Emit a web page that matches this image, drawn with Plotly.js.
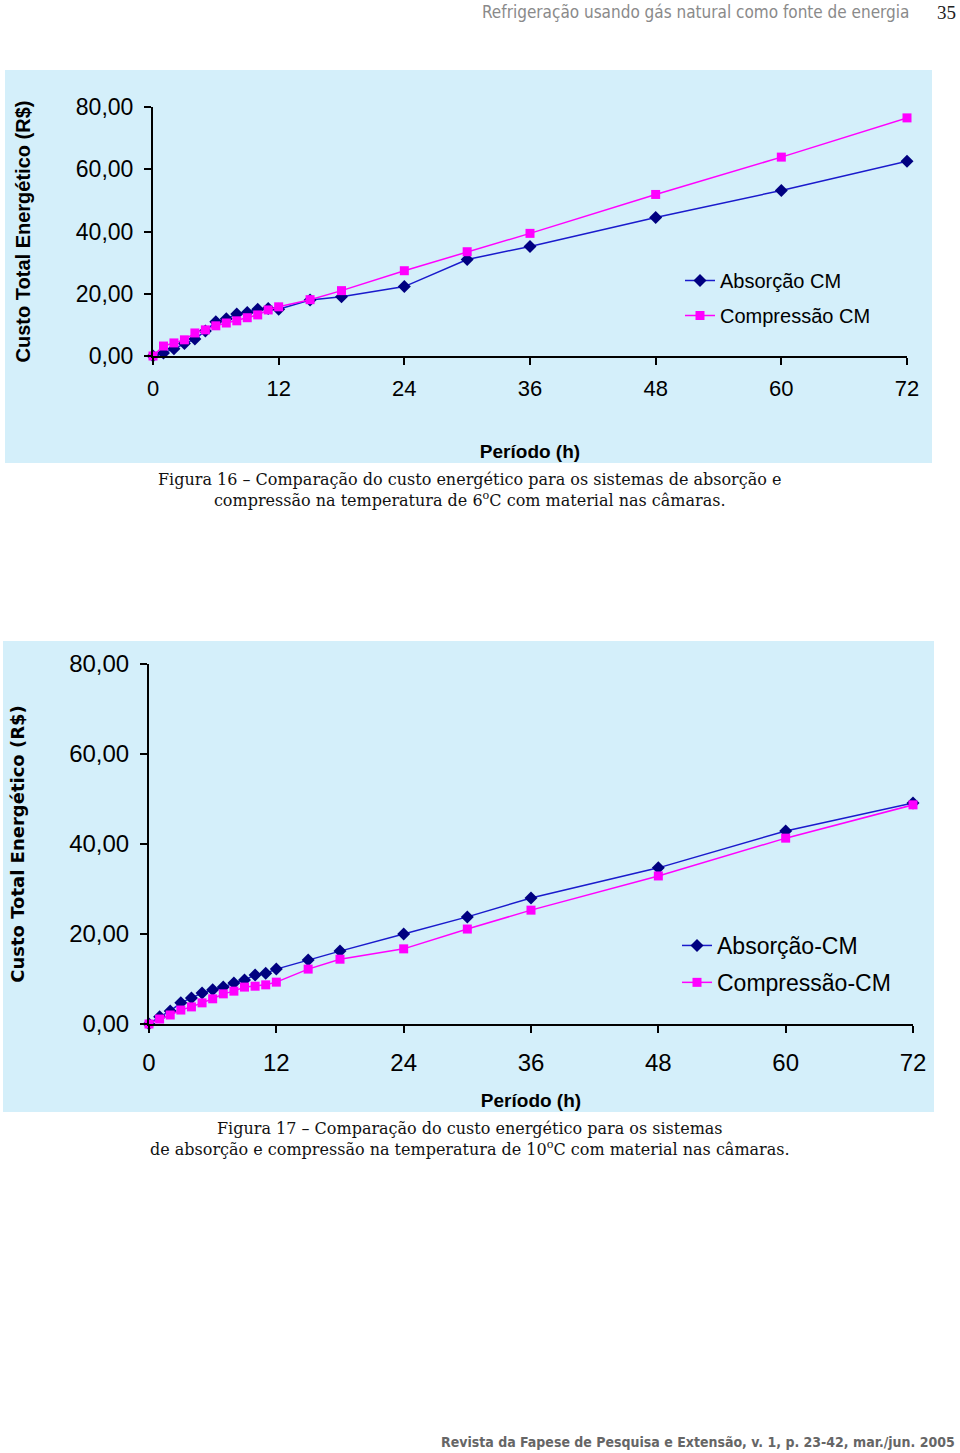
<!DOCTYPE html>
<html>
<head>
<meta charset="utf-8">
<script src="https://cdn.plot.ly/plotly-3.0.1.min.js"></script>
<style>html,body{margin:0;padding:0;background:#fff;}#chart{width:960px;height:1453px;}</style>
</head>
<body>
<div id="chart"></div>
<script>
// ---- Data ----
const hours = [0,1,2,3,4,5,6,7,8,9,10,11,12,15,18,24,30,36,48,60,72];
const xTicks = [0,12,24,36,48,60,72];
const yTicks = [0,20,40,60,80];

// Figura 16 (6 ºC)
const fig16Absorcao   = [0,1.0,2.3,4.0,5.5,8.0,11.0,12.0,13.5,14.0,15.0,15.3,15.0,18.0,19.0,22.3,31.0,35.2,44.5,53.2,62.6];
const fig16Compressao = [0,3.2,4.2,5.2,7.4,8.4,9.7,10.6,11.3,12.3,13.2,14.8,15.8,18.1,21.0,27.4,33.5,39.4,51.9,63.9,76.5];

// Figura 17 (10 ºC)
const fig17Absorcao   = [0,1.6,2.9,4.7,5.8,6.9,7.6,8.2,9.1,9.8,10.9,11.3,12.2,14.2,16.2,20.0,23.8,28.0,34.7,42.9,49.1];
const fig17Compressao = [0,1.1,2.0,3.1,3.8,4.7,5.6,6.7,7.3,8.2,8.4,8.7,9.3,12.2,14.4,16.7,21.1,25.3,32.9,41.3,48.7];

const names16 = ['Absorção CM','Compressão CM'];
const names17 = ['Absorção-CM','Compressão-CM'];

// ---- Layout helpers ----
const W = 960, H = 1453;
const px = x => x / W;
const py = y => 1 - y / H;

const blueLine = '#1a1acc', blueMarker = '#000080', magenta = '#ff00ff';

function mkTrace(x, y, name, xa, ya, kind, legend, group) {
  const isAbs = kind === 'abs';
  return {
    x: x, y: y, name: name, xaxis: xa, yaxis: ya, type: 'scatter', mode: 'lines+markers',
    cliponaxis: false, legend: legend, legendgroup: group,
    line: {color: isAbs ? blueLine : magenta, width: 1.5},
    marker: isAbs ? {symbol: 'diamond', size: 10, color: blueMarker}
                  : {symbol: 'square', size: 9, color: magenta}
  };
}

const traces = [
  mkTrace(hours, fig16Absorcao,   names16[0], 'x',  'y',  'abs', 'legend',  'a1'),
  mkTrace(hours, fig16Compressao, names16[1], 'x',  'y',  'com', 'legend',  'c1'),
  mkTrace(hours, fig17Absorcao,   names17[0], 'x2', 'y2', 'abs', 'legend2', 'a2'),
  mkTrace(hours, fig17Compressao, names17[1], 'x2', 'y2', 'com', 'legend2', 'c2')
];

const SANS = 'Liberation Sans, Arial, sans-serif';

function xAxis(domain, anchor, standoff, titleStandoff, tsize) {
  return {
    domain: domain, anchor: anchor, range: [0,72], tickvals: xTicks, ticks: 'outside',
    ticklen: 7, tickwidth: 2, tickcolor: '#000', showline: true, linecolor: '#000', linewidth: 2,
    showgrid: false, zeroline: false, tickfont: {family: SANS, size: tsize, color: '#000'},
    ticklabelstandoff: standoff,
    title: {text: 'Período (h)', standoff: titleStandoff,
            font: {family: SANS, size: 19, color: '#000', weight: 'bold'}}
  };
}
function yAxis(domain, anchor, titleFont, titleStandoff, tsize) {
  return {
    domain: domain, anchor: anchor, range: [0,80], tickvals: yTicks, tickformat: '.2f', ticks: 'outside',
    ticklen: 7, tickwidth: 2, tickcolor: '#000', showline: true, linecolor: '#000', linewidth: 2,
    showgrid: false, zeroline: false, tickfont: {family: SANS, size: tsize, color: '#000'},
    ticklabelstandoff: 6,
    title: {text: 'Custo Total Energético (R$)', standoff: titleStandoff, font: titleFont}
  };
}

const layout = {
  width: W, height: H, margin: {l:0, r:0, t:0, b:0},
  paper_bgcolor: '#ffffff', plot_bgcolor: 'rgba(0,0,0,0)',
  separators: ',.', showlegend: true,
  xaxis:  xAxis([px(153), px(907)], 'y', 5, 44, 22),
  yaxis:  yAxis([py(356), py(107)], 'x', {family: SANS, size: 20, color: '#000', weight: 'bold'}, 40, 23),
  xaxis2: xAxis([px(149), px(913)], 'y2', 9, 19, 24),
  yaxis2: yAxis([py(1024), py(664)], 'x2', {family: 'DejaVu Sans, sans-serif', size: 18, color: '#000', weight: 'bold'}, 40, 24),
  legend: {x: px(680), y: py(261), xanchor: 'left', yanchor: 'top', bgcolor: 'rgba(0,0,0,0)',
           font: {family: SANS, size: 20, color: '#000'}, tracegroupgap: 6},
  legend2: {x: px(677), y: py(924), xanchor: 'left', yanchor: 'top', bgcolor: 'rgba(0,0,0,0)',
           font: {family: SANS, size: 23, color: '#000'}, tracegroupgap: 4},
  shapes: [
    {type: 'rect', xref: 'paper', yref: 'paper', x0: px(5), x1: px(932), y0: py(463), y1: py(70),
     fillcolor: '#d4effa', line: {width: 0}, layer: 'below'},
    {type: 'rect', xref: 'paper', yref: 'paper', x0: px(3), x1: px(934), y0: py(1112), y1: py(641),
     fillcolor: '#d4effa', line: {width: 0}, layer: 'below'}
  ],
  annotations: [
    {text: 'Refrigeração usando gás natural como fonte de energia', xref: 'paper', yref: 'paper',
     x: px(911), y: py(12), xanchor: 'right', yanchor: 'middle', showarrow: false,
     font: {family: 'Liberation Sans Narrow, DejaVu Sans Condensed, sans-serif', size: 17, color: '#8a8a8a'}},
    {text: '35', xref: 'paper', yref: 'paper', x: px(958), y: py(12), xanchor: 'right', yanchor: 'middle',
     showarrow: false, font: {family: 'Liberation Serif, serif', size: 19, color: '#222'}},
    {text: 'Figura 16 – Comparação do custo energético para os sistemas de absorção e<br>compressão na temperatura de 6<sup>o</sup>C com material nas câmaras.',
     xref: 'paper', yref: 'paper', x: px(469), y: py(490), xanchor: 'center', yanchor: 'middle', showarrow: false,
     align: 'center', font: {family: 'DejaVu Serif, serif', size: 16, color: '#111'}},
    {text: 'Figura 17 – Comparação do custo energético para os sistemas<br>de absorção e compressão na temperatura de 10<sup>o</sup>C com material nas câmaras.',
     xref: 'paper', yref: 'paper', x: px(470), y: py(1139), xanchor: 'center', yanchor: 'middle', showarrow: false,
     align: 'center', font: {family: 'DejaVu Serif, serif', size: 16, color: '#111'}},
    {text: '<b>Revista da Fapese de Pesquisa e Extensão, v. 1, p. 23-42, mar./jun. 2005</b>',
     xref: 'paper', yref: 'paper', x: px(957), y: py(1442), xanchor: 'right', yanchor: 'middle', showarrow: false,
     font: {family: 'Liberation Sans Narrow, DejaVu Sans Condensed, sans-serif', size: 14, color: '#666'}}
  ]
};

Plotly.newPlot('chart', traces, layout, {displayModeBar: false, staticPlot: true});
</script>
</body>
</html>
